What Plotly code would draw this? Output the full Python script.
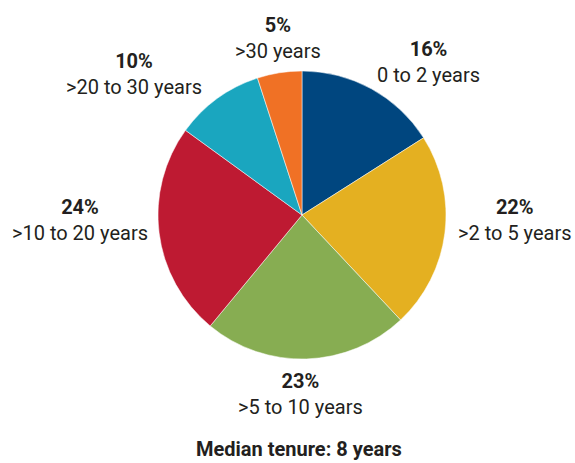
import plotly.graph_objects as go

labels = ["0 to 2 years", ">2 to 5 years", ">5 to 10 years",
          ">10 to 20 years", ">20 to 30 years", ">30 years"]
shares = [16, 22, 23, 24, 10, 5]
colors = ["#00467f", "#e4b021", "#87ad52", "#be1a32", "#1aa6bf", "#f07125"]
title = "Median tenure: 8 years"

W, H = 575, 463
# label block centres in pixels (from top-left)
label_pos = [(428, 62), (515, 220), (300, 394), (80, 220), (134, 74), (278, 38)]

fig = go.Figure(go.Pie(
    labels=labels,
    values=shares,
    sort=False,
    direction="clockwise",
    rotation=0,
    marker=dict(colors=colors, line=dict(color="white", width=0.5)),
    textinfo="none",
    showlegend=False,
    hoverinfo="label+percent",
    domain=dict(x=[158 / W, 446 / W], y=[1 - 359 / H, 1 - 71 / H]),
    automargin=False,
))

font = dict(family="Roboto", size=20, color="#231f20")
for lab, val, (px_, py_) in zip(labels, shares, label_pos):
    fig.add_annotation(
        text=f"<b>{val}%</b><br>{lab}",
        x=px_ / W, y=1 - py_ / H, xref="paper", yref="paper",
        xanchor="center", yanchor="middle", showarrow=False, font=font,
    )

fig.add_annotation(
    text=f"<b>{title}</b>",
    x=299 / W, y=1 - 449 / H, xref="paper", yref="paper",
    xanchor="center", yanchor="middle", showarrow=False,
    font=dict(family="Roboto", size=20, color="#231f20"),
)
fig.update_layout(
    width=W, height=H,
    margin=dict(l=0, r=0, t=0, b=0),
    paper_bgcolor="white",
    plot_bgcolor="white",
)
# the page's default body margin would push the figure off by 8px
fig.write_html("out.html", config={"displayModeBar": False},
               post_script="document.body.style.margin='0';")
